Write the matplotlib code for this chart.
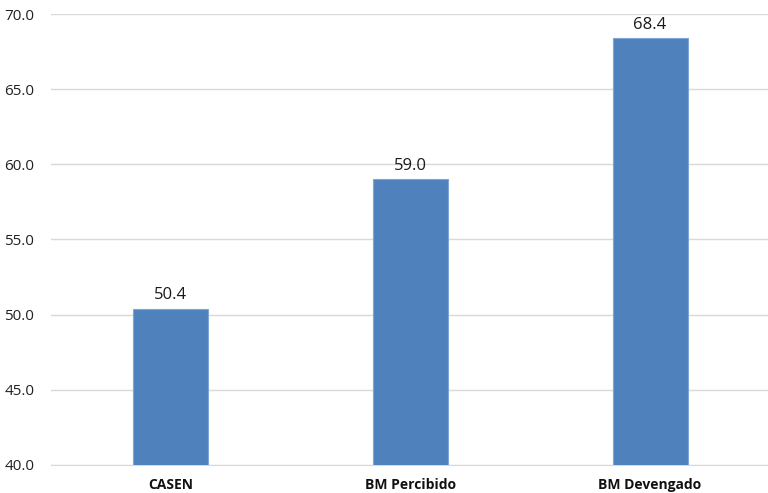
import matplotlib.pyplot as plt
import numpy as np

categorias = ['CASEN', 'BM Percibido', 'BM Devengado']
valores = [50.4, 59.0, 68.4]
yticks = [40.0, 45.0, 50.0, 55.0, 60.0, 65.0, 70.0]

plt.rcParams['font.family'] = ['Open Sans', 'DejaVu Sans']

fig = plt.figure(figsize=(7.68, 4.93), dpi=100)
ax = fig.add_axes([0.0664, 0.0578, 0.936, 0.9128])

x = np.arange(len(categorias))
barras = ax.bar(x, valores, width=0.313, bottom=0, color='#4F81BD',
                edgecolor='#7FA6D6', linewidth=0.8, zorder=3)

for xi, v in zip(x, valores):
    ax.text(xi, v + 0.35, f'{v:.1f}', ha='center', va='bottom', fontsize=12, color='#1a1a1a')

ax.set_xlim(-0.5, 2.5)
ax.set_ylim(40, 70)
ax.set_yticks(yticks)
ax.set_yticklabels([f'{t:.1f}' for t in yticks], fontsize=11, color='#222222')
ax.set_xticks(x)
ax.set_xticklabels(categorias, fontsize=10, fontweight='bold', color='#111111')

ax.grid(axis='y', color='#d9d9d9', linewidth=1, zorder=0)
for s in ['top', 'right', 'left']:
    ax.spines[s].set_visible(False)
ax.spines['bottom'].set_color('#d9d9d9')
ax.tick_params(axis='both', length=0)
ax.tick_params(axis='y', pad=12)
ax.tick_params(axis='x', pad=10)

fig.savefig('out.png', dpi=100)
